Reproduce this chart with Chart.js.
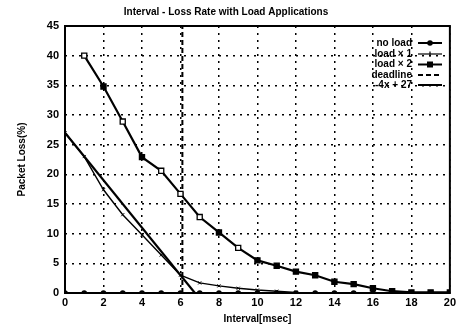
<!DOCTYPE html>
<html>
<head>
<meta charset="utf-8">
<script src="https://cdn.jsdelivr.net/npm/chart.js@4/dist/chart.umd.min.js"></script>
<style>
  html, body { margin: 0; padding: 0; background: #fff; }
  #wrap { width: 459px; height: 325px; }
</style>
</head>
<body>
<div id="wrap"><canvas id="lossChart" width="459" height="325"></canvas></div>
<script>
// data
const xTicks = [0, 2, 4, 6, 8, 10, 12, 14, 16, 18, 20];
const yTicks = [0, 5, 10, 15, 20, 25, 30, 35, 40, 45];

const noLoadX = [0, 1, 2, 3, 4, 5, 6, 7, 8, 9, 10, 11, 12, 13, 14, 15, 16, 17, 18, 19, 20];
const noLoadY = [0, 0, 0, 0, 0, 0, 0, 0, 0, 0, 0, 0, 0, 0, 0, 0, 0, 0, 0, 0, 0];

const load1X = [0, 1, 2, 3, 4, 5, 6, 7, 8, 9, 10, 11, 12, 13, 14, 15, 16, 17, 18, 19, 20];
const load1Y = [27, 23, 17.4, 13.2, 9.8, 6.4, 3.0, 1.7, 1.2, 0.8, 0.5, 0.3, 0.1, 0, 0, 0, 0, 0, 0, 0, 0];

const load2X = [1, 2, 3, 4, 5, 6, 7, 8, 9, 10, 11, 12, 13, 14, 15, 16, 17, 18, 19, 20];
const load2Y = [40, 34.8, 28.9, 22.9, 20.6, 16.7, 12.8, 10.2, 7.6, 5.5, 4.6, 3.6, 3.0, 1.9, 1.5, 0.8, 0.3, 0.1, 0.1, 0.1];

const deadlineX = [6.1, 6.1];
const deadlineY = [0, 45];

const fitX = [0, 6.75];
const fitY = [27, 0];

const legendNames = ['no load', 'load \u00d7 1', 'load \u00d7 2', 'deadline', '-4x + 27'];

function pts(xs, ys) {
  return xs.map((x, i) => ({ x: x, y: ys[i] }));
}

const FONT = '"Liberation Sans", Arial, sans-serif';

// scan shows some squares filled, some hollow
const load2Fill = load2X.map(x => ([1, 3, 5, 6, 7, 9].includes(x) ? '#fff' : '#000'));

// legend drawn inside the plot, text first then the sample
const insideLegend = {
  id: 'insideLegend',
  afterDatasetsDraw(chart) {
    const ctx = chart.ctx;
    const right = 412, x1 = 418, x2 = 442;
    const rows = [43, 54, 64.5, 75, 85];
    ctx.save();
    ctx.font = 'bold 10px ' + FONT;
    ctx.textAlign = 'right';
    ctx.textBaseline = 'middle';
    ctx.fillStyle = '#000';
    ctx.strokeStyle = '#000';
    legendNames.forEach((name, i) => {
      const y = rows[i];
      ctx.fillText(name, right, y);
      ctx.setLineDash(i === 3 ? [5, 3] : []);
      ctx.lineWidth = i === 1 ? 1.2 : 2;
      ctx.beginPath();
      ctx.moveTo(x1, y);
      ctx.lineTo(x2, y);
      ctx.stroke();
      ctx.setLineDash([]);
      const mx = (x1 + x2) / 2;
      if (i === 0) {
        ctx.beginPath();
        ctx.arc(mx, y, 2.8, 0, Math.PI * 2);
        ctx.fill();
      } else if (i === 1) {
        ctx.lineWidth = 1.2;
        ctx.beginPath();
        ctx.moveTo(mx, y - 2.5);
        ctx.lineTo(mx, y + 2.5);
        ctx.stroke();
      } else if (i === 2) {
        ctx.fillRect(mx - 3, y - 3, 6, 6);
      }
    });
    ctx.restore();
  }
};

// thick frame round the plot area
const frame = {
  id: 'frame',
  afterDraw(chart) {
    const a = chart.chartArea;
    const ctx = chart.ctx;
    ctx.save();
    ctx.strokeStyle = '#000';
    ctx.lineWidth = 2;
    ctx.strokeRect(a.left, a.top, a.right - a.left, a.bottom - a.top);
    ctx.restore();
  }
};

new Chart(document.getElementById('lossChart').getContext('2d'), {
  type: 'scatter',
  data: {
    datasets: [
      {
        label: 'no load',
        data: pts(noLoadX, noLoadY),
        showLine: true,
        borderColor: '#000',
        backgroundColor: '#000',
        borderWidth: 2.2,
        pointStyle: 'circle',
        pointRadius: 2.8,
        pointBorderWidth: 0
      },
      {
        label: 'load x 1',
        data: pts(load1X, load1Y),
        showLine: true,
        borderColor: '#000',
        backgroundColor: '#000',
        borderWidth: 1.4,
        pointStyle: 'crossRot',
        pointRadius: 2.2,
        pointBorderWidth: 1
      },
      {
        label: 'load x 2',
        data: pts(load2X, load2Y),
        showLine: true,
        borderColor: '#000',
        pointBackgroundColor: load2Fill,
        pointBorderColor: '#000',
        borderWidth: 2.2,
        pointStyle: 'rect',
        pointRadius: 3.6,
        pointBorderWidth: 1.3
      },
      {
        label: 'deadline',
        data: pts(deadlineX, deadlineY),
        showLine: true,
        borderColor: '#000',
        borderWidth: 2,
        borderDash: [5, 3],
        pointRadius: 0
      },
      {
        label: '-4x + 27',
        data: pts(fitX, fitY),
        showLine: true,
        borderColor: '#000',
        borderWidth: 2.2,
        pointRadius: 0
      }
    ]
  },
  options: {
    responsive: false,
    animation: false,
    layout: { padding: { left: 0, right: 7, top: 0, bottom: 0 } },
    plugins: {
      legend: { display: false },
      tooltip: { enabled: false },
      title: {
        display: true,
        text: 'Interval - Loss Rate with Load Applications',
        color: '#000',
        font: { family: FONT, size: 10, weight: 'bold', lineHeight: 1.2 },
        padding: { top: 6, bottom: 8 }
      }
    },
    scales: {
      x: {
        type: 'linear',
        min: 0,
        max: 20,
        afterBuildTicks(axis) { axis.ticks = xTicks.map(v => ({ value: v })); },
        afterFit(axis) { axis.height = 32; },
        ticks: {
          color: '#000',
          padding: 3,
          font: { family: FONT, size: 11, weight: 'bold' }
        },
        grid: {
          color: '#000',
          lineWidth: 1.5,
          drawTicks: false,
          tickBorderDash: [],
          borderDash: [2, 5]
        },
        border: { display: false, dash: [2, 5] },
        title: {
          display: true,
          text: 'Interval[msec]',
          color: '#000',
          font: { family: FONT, size: 10, weight: 'bold', lineHeight: 1.2 },
          padding: { top: 0, bottom: 0 }
        }
      },
      y: {
        type: 'linear',
        min: 0,
        max: 45,
        afterBuildTicks(axis) { axis.ticks = yTicks.map(v => ({ value: v })); },
        afterFit(axis) { axis.width = 65; },
        ticks: {
          color: '#000',
          padding: 6,
          font: { family: FONT, size: 11, weight: 'bold' }
        },
        grid: {
          color: '#000',
          lineWidth: 1.5,
          drawTicks: false
        },
        border: { display: false, dash: [2, 5] },
        title: {
          display: true,
          text: 'Packet Loss(%)',
          color: '#000',
          font: { family: FONT, size: 10, weight: 'bold', lineHeight: 1.2 },
          padding: { top: 16, bottom: 0 }
        }
      }
    }
  },
  plugins: [frame, insideLegend]
});

// dotted grid: v4 uses border.dash for grid lines
const ch = Chart.getChart('lossChart');
ch.options.scales.x.border.dash = [2, 5];
ch.options.scales.y.border.dash = [2, 5];
ch.update();
</script>
</body>
</html>
